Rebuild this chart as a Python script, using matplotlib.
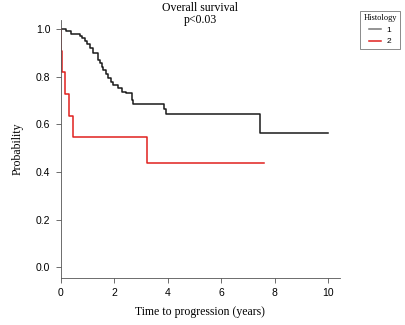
import numpy as np
import matplotlib.pyplot as plt

# Kaplan-Meier curves (time in years, survival probability)
t1 = [0, 0.19, 0.38, 0.72, 0.78, 0.91, 0.99, 1.09, 1.19, 1.38, 1.47, 1.53, 1.59,
      1.68, 1.78, 1.87, 1.97, 2.15, 2.28, 2.45, 2.65, 2.71, 3.87, 3.95, 7.47, 10.0]
s1 = [1.0, 0.993, 0.980, 0.972, 0.961, 0.950, 0.936, 0.922, 0.898, 0.870, 0.856, 0.842, 0.828,
      0.810, 0.793, 0.779, 0.765, 0.751, 0.737, 0.730, 0.702, 0.685, 0.664, 0.643, 0.565, 0.565]

t2 = [0, 0.03, 0.06, 0.17, 0.32, 0.45, 3.22, 7.6]
s2 = [1.0, 0.909, 0.818, 0.727, 0.636, 0.545, 0.436, 0.436]

groups = ['1', '2']
colors = ['#1a1a1a', '#e0201e']

x_ticks = [0, 2, 4, 6, 8, 10]
y_ticks = [0.0, 0.2, 0.4, 0.6, 0.8, 1.0]

serif = 'Liberation Serif'
sans = 'Liberation Sans'

fig = plt.figure(figsize=(4.06, 3.25), dpi=100)
ax = fig.add_axes([0.1495, 0.1455, 0.688, 0.793])

ax.step(t1, s1, where='post', color=colors[0], lw=1.1, label=groups[0])
ax.step(t2, s2, where='post', color=colors[1], lw=1.1, label=groups[1])

ax.set_xlim(0, 10.45)
ax.set_ylim(-0.0436, 1.0378)
ax.set_xticks(x_ticks)
ax.set_xticklabels([str(v) for v in x_ticks], fontfamily=sans, fontsize=7.5)
ax.set_yticks(y_ticks)
ax.set_yticklabels([f'{v:.1f}' for v in y_ticks], fontfamily=sans, fontsize=7.5)
ax.tick_params(length=3.5, width=0.6, color='#555555', pad=4)

for side in ['top', 'right']:
    ax.spines[side].set_visible(False)
for side in ['left', 'bottom']:
    ax.spines[side].set_linewidth(0.6)
    ax.spines[side].set_color('#555555')

ax.set_xlabel('Time to progression (years)', fontfamily=serif, fontsize=8.5, labelpad=6)
ax.set_ylabel('Probability', fontfamily=serif, fontsize=8.5, labelpad=9)

# two-line title, centred over the axes
cx = 0.1495 + 0.688 / 2
fig.text(cx, 1 - 8 / 325, 'Overall survival', ha='center', va='center',
         fontfamily=serif, fontsize=8.5)
fig.text(cx, 1 - 20 / 325, 'p<0.03', ha='center', va='center',
         fontfamily=serif, fontsize=8.5)

leg = fig.legend(loc='upper left', bbox_to_anchor=(360 / 406, 1 - 11 / 325), title='Histology',
                 fontsize=6, title_fontsize=6, frameon=True, fancybox=False,
                 handlelength=1.5, handletextpad=0.6, borderpad=0.4, labelspacing=0.45,
                 borderaxespad=0)
leg.get_frame().set_edgecolor('#555555')
leg.get_frame().set_linewidth(0.6)
leg.get_title().set_fontfamily(serif)
for txt in leg.get_texts():
    txt.set_fontfamily(sans)
leg.get_lines()[0].set_color('#777777')

fig.savefig('out.png', dpi=100)
